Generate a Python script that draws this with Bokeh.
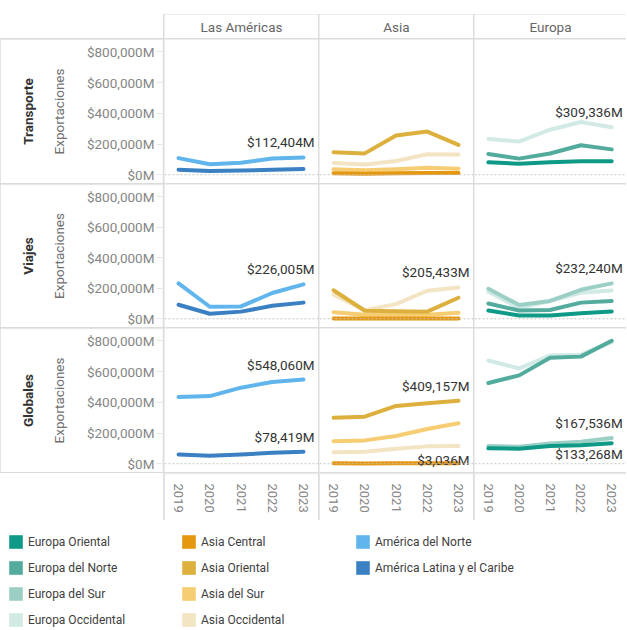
import numpy as np
from bokeh.plotting import figure
from bokeh.models import (Range1d, Span, Legend, LegendItem, FactorRange, ColumnDataSource,
                          FixedTicker, Row, Column, Spacer)
from bokeh.core.properties import value
from bokeh.embed import file_html
from bokeh.resources import INLINE

# ---------------- data (millones de US$) ----------------
years = [2019, 2020, 2021, 2022, 2023]
regions = ["Las Américas", "Asia", "Europa"]
categories = ["Transporte", "Viajes", "Globales"]

tick_values = [0, 200000, 400000, 600000, 800000]
tick_labels = ["$0M", "$200,000M", "$400,000M", "$600,000M", "$800,000M"]

# Transporte
tra_am_norte = [108000, 68000, 78000, 105000, 112404]
tra_am_latina = [33000, 24000, 27000, 33000, 37000]
tra_as_oriental = [146000, 139000, 256000, 281000, 194000]
tra_as_occidental = [77000, 67000, 89000, 133000, 131000]
tra_as_sur = [36000, 29000, 36000, 46000, 39000]
tra_as_central = [9000, 7000, 9000, 11000, 11000]
tra_eu_occidental = [232000, 216000, 293000, 343000, 309336]
tra_eu_norte = [135000, 105000, 138000, 192000, 165000]
tra_eu_oriental = [81000, 71000, 81000, 87000, 87000]

# Viajes
via_am_norte = [232000, 79000, 81000, 169000, 226005]
via_am_latina = [92000, 33000, 47000, 85000, 106000]
via_as_oriental = [187000, 53000, 49000, 47000, 138000]
via_as_occidental = [158000, 57000, 96000, 184000, 205433]
via_as_sur = [43000, 27000, 27000, 27000, 39000]
via_as_central = [2000, 1500, 1500, 2000, 2500]
via_eu_sur = [197000, 90000, 117000, 190000, 232240]
via_eu_occidental = [178000, 70000, 117000, 170000, 186000]
via_eu_norte = [100000, 54000, 58000, 106000, 117000]
via_eu_oriental = [54000, 22000, 22000, 37000, 48000]

# Globales
glo_am_norte = [435000, 440000, 495000, 532000, 548060]
glo_am_latina = [60000, 52000, 60000, 72000, 78419]
glo_as_oriental = [300000, 306000, 376000, 393000, 409157]
glo_as_sur = [146000, 152000, 181000, 226000, 263000]
glo_as_occidental = [74000, 78000, 98000, 113000, 116000]
glo_as_central = [2600, 2300, 2600, 2900, 3036]
glo_eu_occidental = [672000, 620000, 704000, 710000, 792000]
glo_eu_norte = [525000, 575000, 690000, 697000, 800000]
glo_eu_sur = [115000, 110000, 132000, 143000, 167536]
glo_eu_oriental = [100000, 98000, 115000, 121000, 133268]

data = {
    "Transporte": {
        "América del Norte": tra_am_norte, "América Latina y el Caribe": tra_am_latina,
        "Asia Occidental": tra_as_occidental, "Asia del Sur": tra_as_sur,
        "Asia Oriental": tra_as_oriental, "Asia Central": tra_as_central,
        "Europa Occidental": tra_eu_occidental, "Europa del Norte": tra_eu_norte,
        "Europa Oriental": tra_eu_oriental,
    },
    "Viajes": {
        "América del Norte": via_am_norte, "América Latina y el Caribe": via_am_latina,
        "Asia Occidental": via_as_occidental, "Asia del Sur": via_as_sur,
        "Asia Oriental": via_as_oriental, "Asia Central": via_as_central,
        "Europa Occidental": via_eu_occidental, "Europa del Sur": via_eu_sur,
        "Europa del Norte": via_eu_norte, "Europa Oriental": via_eu_oriental,
    },
    "Globales": {
        "América del Norte": glo_am_norte, "América Latina y el Caribe": glo_am_latina,
        "Asia Occidental": glo_as_occidental, "Asia del Sur": glo_as_sur,
        "Asia Oriental": glo_as_oriental, "Asia Central": glo_as_central,
        "Europa Occidental": glo_eu_occidental, "Europa del Sur": glo_eu_sur,
        "Europa del Norte": glo_eu_norte, "Europa Oriental": glo_eu_oriental,
    },
}

region_series = {
    "Las Américas": ["América del Norte", "América Latina y el Caribe"],
    "Asia": ["Asia Occidental", "Asia del Sur", "Asia Oriental", "Asia Central"],
    "Europa": ["Europa Occidental", "Europa del Sur", "Europa del Norte", "Europa Oriental"],
}

colors = {
    "Europa Oriental": "#0E9A86", "Europa del Norte": "#52AB9D",
    "Europa del Sur": "#9BCFC6", "Europa Occidental": "#D2EAE5",
    "Asia Central": "#E5970F", "Asia Oriental": "#DDB03E",
    "Asia del Sur": "#F6CD72", "Asia Occidental": "#F3E4C3",
    "América del Norte": "#5FB5EC", "América Latina y el Caribe": "#3B80C2",
}

legend_columns = [
    ["Europa Oriental", "Europa del Norte", "Europa del Sur", "Europa Occidental"],
    ["Asia Central", "Asia Oriental", "Asia del Sur", "Asia Occidental"],
    ["América del Norte", "América Latina y el Caribe"],
]

# data labels: (category, region, series, placement)
data_labels = [
    ("Transporte", "Las Américas", "América del Norte", "above"),
    ("Transporte", "Europa", "Europa Occidental", "above"),
    ("Viajes", "Las Américas", "América del Norte", "above"),
    ("Viajes", "Asia", "Asia Occidental", "above"),
    ("Viajes", "Europa", "Europa del Sur", "above"),
    ("Globales", "Las Américas", "América del Norte", "above"),
    ("Globales", "Las Américas", "América Latina y el Caribe", "above"),
    ("Globales", "Asia", "Asia Oriental", "above"),
    ("Globales", "Asia", "Asia Central", "on"),
    ("Globales", "Europa", "Europa del Sur", "above"),
    ("Globales", "Europa", "Europa Oriental", "below"),
]
placement_offset = {"above": -15, "below": 11, "on": -3}

# ---------------- layout ----------------
FONT = "Roboto"
LINE = "#dcdcdc"
TOP_GAP = 14
LEFT_W = 163
PANEL_W = {"Las Américas": 154, "Asia": 154, "Europa": 152}
HEADER_H = 24
ROW_H = [144, 143, 144]
YEAR_H = 47
LEGEND_H = 108
TOTAL_W = LEFT_W + sum(PANEL_W.values()) + 3

y_rng = Range1d(-57000, 880000)
x_rngs = {r: Range1d(2018.55, 2023.48) for r in regions}


def base_fig(**kw):
    p = figure(toolbar_location=None, output_backend="svg", min_border=0, **kw)
    p.grid.visible = False
    p.outline_line_color = None
    p.background_fill_color = "white"
    p.border_fill_color = "white"
    return p


def white_spacer(w, h):
    return Spacer(width=w, height=h, styles={"background-color": "white"})


# header row
header_children = [white_spacer(LEFT_W, HEADER_H)]
for reg in regions:
    hf = base_fig(width=PANEL_W[reg], height=HEADER_H, x_range=FactorRange(factors=[reg]),
                  y_range=Range1d(-1, 1), x_axis_location=None, y_axis_location=None)
    hf.text(x=[reg], y=[0], text=[reg], text_align="center", text_baseline="middle",
            text_font=value(FONT), text_font_size="13.5px", text_color="#666666")
    header_children.append(hf)
grid_rows = [Row(children=header_children, spacing=1, styles={"background-color": LINE})]

for ci, cat in enumerate(categories):
    h = ROW_H[ci]
    af = base_fig(width=LEFT_W, height=h, y_range=y_rng, x_range=Range1d(0, 1),
                  x_axis_location=None, title=cat, title_location="left")
    af.min_border_left = LEFT_W - 1
    af.min_border_right = 0
    af.title.align = "center"
    af.title.text_font = FONT
    af.title.text_font_size = "13.5px"
    af.title.text_font_style = "bold"
    af.title.text_color = "#333333"
    af.title.standoff = 23
    ax = af.yaxis[0]
    ax.ticker = FixedTicker(ticks=tick_values)
    ax.major_label_overrides = {v: l for v, l in zip(tick_values, tick_labels)}
    ax.axis_line_color = None
    ax.major_tick_line_color = "#e6e6e6"
    ax.major_tick_out = 6
    ax.major_tick_in = 0
    ax.minor_tick_line_color = None
    ax.major_label_standoff = 2
    ax.major_label_text_font = FONT
    ax.major_label_text_font_size = "13.5px"
    ax.major_label_text_color = "#858585"
    ax.axis_label = "Exportaciones"
    ax.axis_label_text_font = FONT
    ax.axis_label_text_font_style = "normal"
    ax.axis_label_text_font_size = "13.5px"
    ax.axis_label_text_color = "#707070"
    ax.axis_label_standoff = 17
    children = [af]
    for reg in regions:
        p = base_fig(width=PANEL_W[reg], height=h, x_range=x_rngs[reg], y_range=y_rng,
                     x_axis_location=None, y_axis_location=None)
        p.add_layout(Span(location=0, dimension="width", line_color="#c4c4c4",
                          line_dash="2 2", line_width=1))
        for s in region_series[reg]:
            if s in data[cat]:
                p.line(years, data[cat][s], line_color=colors[s], line_width=4,
                       line_cap="round", line_join="round")
        labs = [d for d in data_labels if d[0] == cat and d[1] == reg]
        if labs:
            src = ColumnDataSource(dict(
                x=[years[-1] for _ in labs],
                y=[data[cat][d[2]][-1] for d in labs],
                t=["${:,.0f}M".format(data[cat][d[2]][-1]) for d in labs],
                yo=[placement_offset[d[3]] for d in labs],
            ))
            p.text(x="x", y="y", text="t", y_offset="yo", x_offset=11, source=src,
                   text_align="right", text_baseline="middle", text_font=value(FONT),
                   text_font_size="13.5px", text_color="#333333")
        children.append(p)
    grid_rows.append(Row(children=children, spacing=1, styles={"background-color": LINE}))

# year axis row
year_children = [white_spacer(LEFT_W, YEAR_H)]
for reg in regions:
    yf = base_fig(width=PANEL_W[reg], height=YEAR_H, x_range=x_rngs[reg], y_range=Range1d(0, 1),
                  y_axis_location=None)
    yf.min_border_bottom = YEAR_H - 1
    xa = yf.xaxis[0]
    xa.ticker = FixedTicker(ticks=years)
    xa.major_label_orientation = "vertical"
    xa.axis_line_color = None
    xa.major_tick_line_color = None
    xa.minor_tick_line_color = None
    xa.major_label_standoff = 3
    xa.major_label_text_font = FONT
    xa.major_label_text_font_size = "13px"
    xa.major_label_text_color = "#858585"
    year_children.append(yf)
grid_rows.append(Row(children=year_children, spacing=1, styles={"background-color": LINE}))

grid = Column(children=grid_rows, spacing=1, styles={"background-color": LINE})

# legend
lf = base_fig(width=TOTAL_W, height=LEGEND_H, x_range=Range1d(0, 1),
              y_range=Range1d(0, 1), x_axis_location=None, y_axis_location=None)
legend_x = [7, 180, 354]
GLYPH = 17
GAP = 9
nan = np.array([np.nan])
for col_i, names in enumerate(legend_columns):
    items = []
    for n in names:
        r = lf.quad(left=nan, right=nan, top=nan, bottom=nan, fill_color=colors[n],
                    line_color=None)
        items.append(LegendItem(label=n, renderers=[r]))
    n_rows = len(names)
    leg_h = n_rows * GLYPH + (n_rows - 1) * GAP
    leg = Legend(items=items, location=(legend_x[col_i], LEGEND_H - 13 - leg_h),
                 orientation="vertical", glyph_width=GLYPH, glyph_height=GLYPH,
                 label_height=GLYPH, spacing=GAP, padding=0, margin=0,
                 border_line_color=None, background_fill_alpha=0, label_text_font=FONT,
                 label_text_font_size="12px", label_text_color="#404040", label_standoff=4)
    lf.add_layout(leg)

page = Column(children=[Spacer(width=10, height=TOP_GAP), grid, lf], spacing=0)

open("out.html", "w").write(file_html(page, INLINE))
